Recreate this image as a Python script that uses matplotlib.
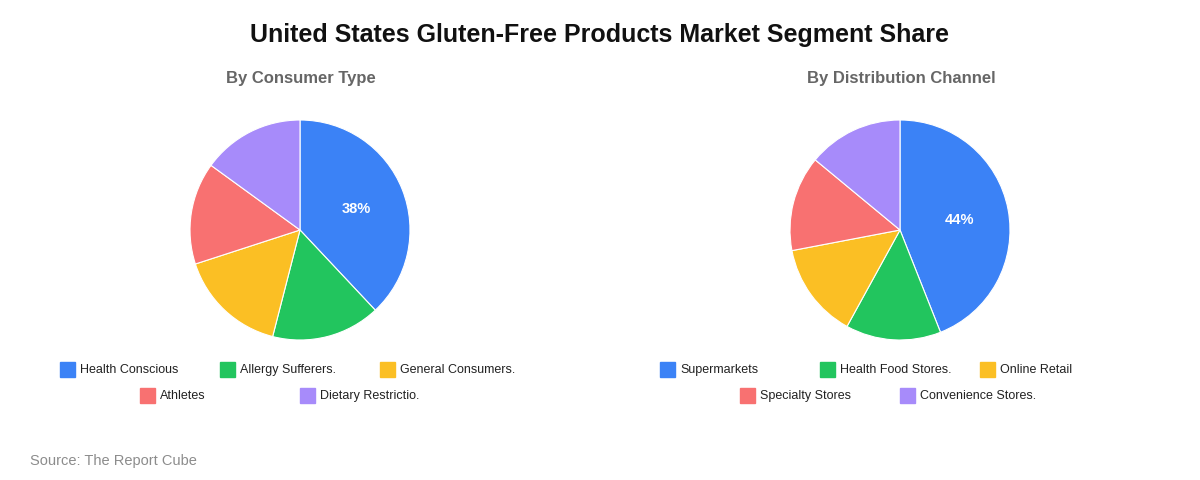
import matplotlib.pyplot as plt
import numpy as np
from matplotlib.patches import Rectangle

plt.rcParams["font.family"] = ["Liberation Sans", "DejaVu Sans"]

title = "United States Gluten-Free Products Market Segment Share"
source = "Source: The Report Cube"
colors = ["#3B82F6", "#22C55E", "#FBBF24", "#F87171", "#A78BFA"]

consumer_title = "By Consumer Type"
consumer_labels = ["Health Conscious", "Allergy Sufferers.", "General Consumers.",
                   "Athletes", "Dietary Restrictio."]
consumer_share = [38, 16, 16, 15, 15]

channel_title = "By Distribution Channel"
channel_labels = ["Supermarkets", "Health Food Stores.", "Online Retail",
                  "Specialty Stores", "Convenience Stores."]
channel_share = [44, 14, 14, 14, 14]

W, H = 1200, 480
fig = plt.figure(figsize=(W / 100, H / 100), dpi=100)

# overlay axes in pixel coordinates for text and legends
bg = fig.add_axes([0, 0, 1, 1])
bg.set_xlim(0, W)
bg.set_ylim(H, 0)
bg.axis("off")

bg.text(600, 35, title, ha="center", va="center", fontsize=18, fontweight="bold", color="#111111")
bg.text(30, 461, source, ha="left", va="center", fontsize=10.5, color="#8c8c8c")


def draw_pie(cx, subtitle, labels, values):
    r = 110
    ax = fig.add_axes([(cx - r) / W, 1 - (230 + r) / H, 2 * r / W, 2 * r / H])
    ax.pie(values, colors=colors, startangle=90, counterclock=False,
           radius=1, wedgeprops=dict(edgecolor="white", linewidth=0.8))
    ax.set_xlim(-1, 1)
    ax.set_ylim(-1, 1)
    ax.set_aspect("equal")
    ax.axis("off")

    # percentage label on the largest slice only
    theta = np.deg2rad(90 - values[0] / sum(values) * 180)
    ax.text(0.55 * np.cos(theta), 0.55 * np.sin(theta) - 0.015, f"{values[0]}%",
            ha="center", va="center", color="white", fontsize=10.5, fontweight="bold")

    bg.text(cx + 1, 78, subtitle, ha="center", va="center", fontsize=12,
            fontweight="bold", color="#666666")

    start = cx - 240
    for i, (lab, col) in enumerate(zip(labels, colors)):
        row, c = divmod(i, 3)
        x = start + c * 160 + (80 if row == 1 else 0)
        y = 369 + row * 26
        bg.add_patch(Rectangle((x, y - 7.5), 15, 15, color=col))
        bg.text(x + 20, y + 1, lab, ha="left", va="center", fontsize=9, color="#222222")


draw_pie(300, consumer_title, consumer_labels, consumer_share)
draw_pie(900, channel_title, channel_labels, channel_share)

fig.savefig("out.png", dpi=100, facecolor="white")
